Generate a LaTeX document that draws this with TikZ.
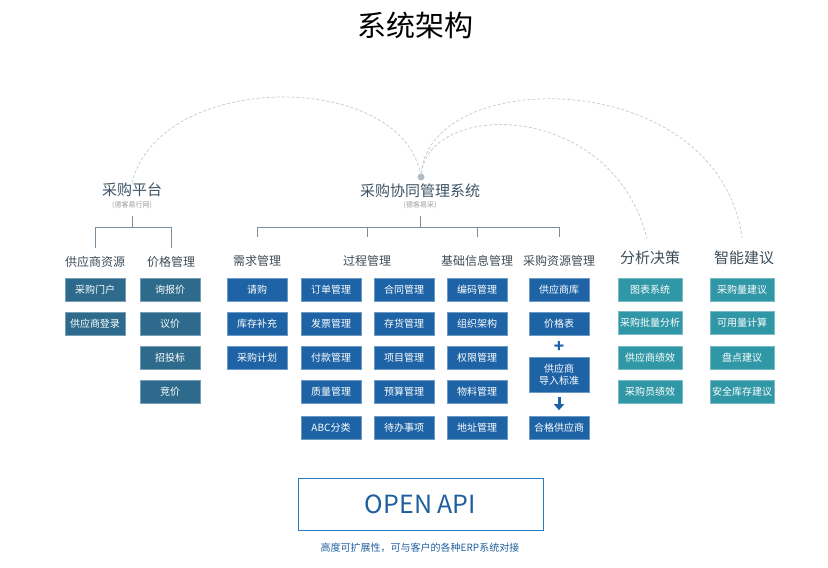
\documentclass[tikz,border=0pt]{standalone}
\usepackage{fontspec}
\setmainfont{Noto Sans CJK SC}
\usetikzlibrary{arrows.meta}

\definecolor{slate}{HTML}{3E5364}
\definecolor{headgray}{HTML}{3C4C58}
\definecolor{subgray}{HTML}{9A9A9A}
\definecolor{linegray}{HTML}{7B8D9A}
\definecolor{arcgray}{HTML}{C5CFD6}
\definecolor{dotgray}{HTML}{B3BDC6}
\definecolor{pricecol}{HTML}{2D6A8C}
\definecolor{flowcol}{HTML}{1D63A6}
\definecolor{tealcol}{HTML}{3097A6}
\definecolor{apiblue}{HTML}{2C7BC0}
\definecolor{apitext}{HTML}{1F5E9E}

\begin{document}
\begin{tikzpicture}[x=1pt,y=-1pt,
  toplabel/.style={text=slate, inner sep=0pt, font=\fontsize{15}{17}\selectfont},
  sublabel/.style={text=subgray, inner sep=1pt, font=\fontsize{7}{8}\selectfont},
  head/.style={text=headgray, inner sep=0pt, font=\fontsize{12}{14}\selectfont},
  bighead/.style={text=headgray, inner sep=0pt, font=\fontsize{15}{17}\selectfont},
  pricebox/.style={fill=pricecol, draw=pricecol!65!white, line width=0.6pt, text=white,
    minimum width=60pt, minimum height=23pt, inner sep=0pt, font=\fontsize{10}{12}\selectfont},
  flowbox/.style={pricebox, fill=flowcol, draw=flowcol!65!white},
  tealbox/.style={pricebox, fill=tealcol, draw=tealcol!65!white, minimum width=64pt},
  treeline/.style={draw=linegray, line width=1pt},
  arcline/.style={draw=arcgray, line width=0.8pt, dash pattern=on 3pt off 2pt},
  hubdot/.style={circle, fill=dotgray, inner sep=0pt, minimum size=7pt},
  downarrow/.style={draw=flowcol, line width=3pt, -{Triangle[length=6pt,width=10pt]},
    shorten <=5pt, shorten >=6pt}]
\useasboundingbox (0,0) rectangle (828,568);

% title
\node [font=\fontsize{29}{32}\selectfont] (title) at (415,25) {系统架构};

% the two platforms
\node [toplabel] (cgpt) at (132,190) {采购平台};
\node [sublabel] (cgptsub) at (132,205) {(德客易行网)};
\node [toplabel] (cgxt) at (420,191) {采购协同管理系统};
\node [sublabel] (cgxtsub) at (420,205) {(德客易采)};
\node [hubdot] (hub) at (421,177) {};

% headers
\node [head] (gys) at (95,262) {供应商资源};
\node [head] (jg) at (171,262) {价格管理};
\node [head] (xq) at (257,261) {需求管理};
\node [head] (gc) at (367,261) {过程管理};
\node [head] (jc) at (477,261) {基础信息管理};
\node [head] (zy) at (559,261) {采购资源管理};
\node [bighead] (fx) at (650,258) {分析决策};
\node [bighead] (zn) at (744,258) {智能建议};

% tree lines
\coordinate (ptjoin) at (133,227);
\coordinate (xtjoin) at (420,227);
\draw [treeline, shorten <=6pt] (cgptsub.south) -- (cgptsub.south |- ptjoin);
\draw [treeline, shorten >=8.5pt] (ptjoin) -| (gys.north);
\draw [treeline, shorten >=8.5pt] (ptjoin) -| (jg.north);
\draw [treeline, shorten <=6pt] (cgxtsub.south) -- (xtjoin);
\foreach \h in {xq,gc,jc,zy}
  \draw [treeline, shorten >=18pt] (xtjoin) -| (\h.north);

% dashed arcs
\draw [arcline] (cgpt.north) .. controls (160,70) and (400,70) .. (hub);
\draw [arcline, shorten >=13pt] (hub) .. controls (430,65) and (718,65) .. (zn.north);
\draw [arcline, shorten >=13pt] (hub) .. controls (430,100) and (612,100) .. (fx.north);

% supplier resources and prices
\node [pricebox] (gys1) at (95,289.5) {采购门户};
\node [pricebox] (gys2) at (95,324) {供应商登录};
\node [pricebox] (jg1) at (170,289.5) {询报价};
\node [pricebox] (jg2) at (170,324) {议价};
\node [pricebox] (jg3) at (170,358) {招投标};
\node [pricebox] (jg4) at (170,392) {竞价};

% demand
\node [flowbox] (xq1) at (257,289.5) {请购};
\node [flowbox] (xq2) at (257,324) {库存补充};
\node [flowbox] (xq3) at (257,358) {采购计划};

% process
\node [flowbox] (gca1) at (331,289.5) {订单管理};
\node [flowbox] (gca2) at (331,324) {发票管理};
\node [flowbox] (gca3) at (331,358) {付款管理};
\node [flowbox] (gca4) at (331,392) {质量管理};
\node [flowbox] (gca5) at (331,428) {ABC分类};
\node [flowbox] (gcb1) at (404,289.5) {合同管理};
\node [flowbox] (gcb2) at (404,324) {存货管理};
\node [flowbox] (gcb3) at (404,358) {项目管理};
\node [flowbox] (gcb4) at (404,392) {预算管理};
\node [flowbox] (gcb5) at (404,428) {待办事项};

% base info
\node [flowbox] (jc1) at (477,289.5) {编码管理};
\node [flowbox] (jc2) at (477,324) {组织架构};
\node [flowbox] (jc3) at (477,358) {权限管理};
\node [flowbox] (jc4) at (477,392) {物料管理};
\node [flowbox] (jc5) at (477,428) {地址管理};

% purchasing resources
\node [flowbox] (zy1) at (559,289.5) {供应商库};
\node [flowbox] (zy2) at (559,324) {价格表};
\node [text=flowcol, font=\bfseries\fontsize{17}{18}\selectfont, inner sep=0pt] (plus) at (559,347) {+};
\node [flowbox, minimum height=35pt, align=center] (zy3) at (559,374.5) {供应商\\导入标准};
\node [flowbox] (zy4) at (559,428) {合格供应商};
\draw [downarrow] (zy3) -- (zy4);

% analysis
\node [tealbox] (fx1) at (650,290) {图表系统};
\node [tealbox] (fx2) at (650,323) {采购批量分析};
\node [tealbox] (fx3) at (650,358) {供应商绩效};
\node [tealbox] (fx4) at (650,392) {采购员绩效};

% suggestions
\node [tealbox] (zn1) at (742,290) {采购量建议};
\node [tealbox] (zn2) at (742,323) {可用量计算};
\node [tealbox] (zn3) at (742,358) {盘点建议};
\node [tealbox] (zn4) at (742,392) {安全库存建议};

% open api
\node [draw=apiblue, line width=0.8pt, minimum width=245pt, minimum height=52pt,
  text=apitext, font=\fontsize{25}{28}\selectfont] (api) at (420.5,504) {OPEN API};
\node [text=apitext, font=\fontsize{10}{12}\selectfont] (apinote) at (420,548)
  {高度可扩展性，可与客户的各种ERP系统对接};
\end{tikzpicture}
\end{document}
